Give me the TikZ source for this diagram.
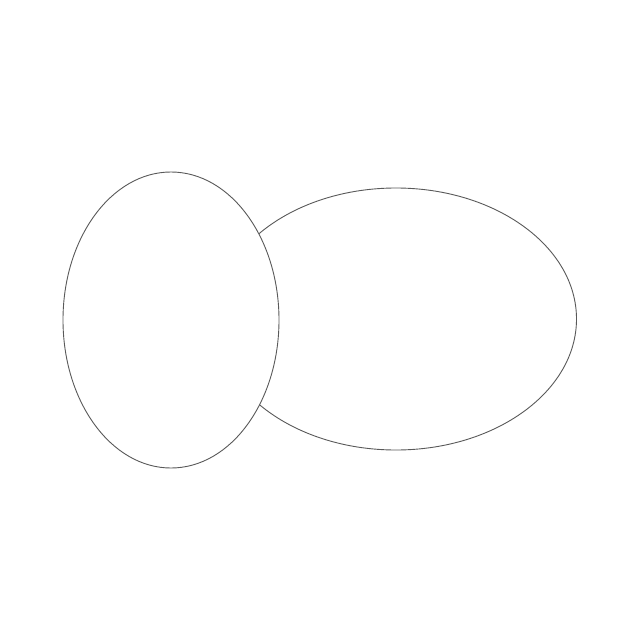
\documentclass[tikz,border=0pt]{standalone}
\usetikzlibrary{shapes.geometric}
\begin{document}
\begin{tikzpicture}[x=1pt,y=-1pt,
  blob/.style={ellipse,draw=black!65,line width=0.9pt,fill=white,inner sep=0pt}]
\useasboundingbox (0,0) rectangle (640,640);
\node[blob,minimum width=361pt,minimum height=262pt] (right) at (396,319) {};
\node[blob,minimum width=216pt,minimum height=296pt] (left) at (171,320) {};
\end{tikzpicture}
\end{document}
